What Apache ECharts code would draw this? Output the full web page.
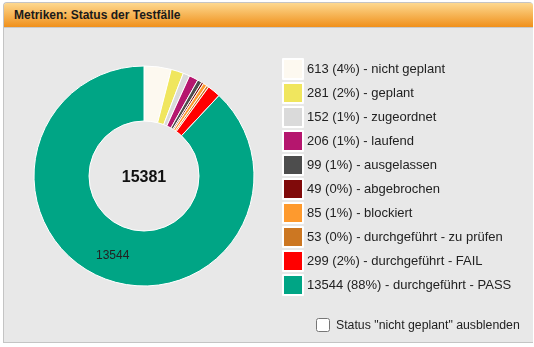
<!DOCTYPE html>
<html>
<head>
<meta charset="utf-8">
<script src="https://cdn.jsdelivr.net/npm/echarts@6/dist/echarts.min.js"></script>
<style>
html,body{margin:0;padding:0;background:#fff;width:534px;height:347px;overflow:hidden;font-family:"Liberation Sans",Arial,sans-serif;}
#panel{position:absolute;left:3px;top:2px;width:530px;height:341px;box-sizing:border-box;border:1px solid #c4c4c4;border-right:none;background:#e8e8e8;border-radius:4px 4px 0 0;}
#head{position:absolute;left:0;top:0;right:0;height:24px;border-radius:3px 3px 0 0;background:linear-gradient(#fdd88f,#f0901b);border-bottom:1px solid #c9c9c9;}
#head span{position:absolute;left:10px;top:5px;font-weight:bold;font-size:12px;color:#1a1a1a;}
#chart{position:absolute;left:0;top:0;width:534px;height:347px;}
#chk{position:absolute;left:316px;top:318px;font-size:12.3px;color:#222;display:flex;align-items:center;}
#chk input{margin:0 6px 0 0;width:14px;height:14px;}
</style>
</head>
<body>
<div id="panel"><div id="head"><span>Metriken: Status der Testfälle</span></div></div>
<div id="chart"></div>
<label id="chk"><input type="checkbox">Status "nicht geplant" ausblenden</label>
<script>
const categories = ["nicht geplant","geplant","zugeordnet","laufend","ausgelassen","abgebrochen","blockiert","durchgeführt - zu prüfen","durchgeführt - FAIL","durchgeführt - PASS"];
const values = [613,281,152,206,99,49,85,53,299,13544];
const colors = ["#fdf9f0","#f0e65e","#dadada","#b5166e","#4d4d4d","#800a0a","#fe9a2e","#cc7722","#ff0000","#00a585"];
const total = values.reduce((a,b)=>a+b,0);

const chart = echarts.init(document.getElementById('chart'), null, {renderer:'canvas'});
const data = categories.map((n,i)=>({
  name:n, value:values[i], itemStyle:{color:colors[i]},
  label:{show: values[i]/total > 0.1}
}));
chart.setOption({
  backgroundColor:'transparent',
  animation:false,
  color:colors,
  legend:{
    orient:'vertical', left:282, top:58, padding:0, itemWidth:20, itemHeight:20, itemGap:2,
    icon:'rect', selectedMode:false,
    textStyle:{fontSize:13,color:'#222',fontFamily:'Liberation Sans, Arial, sans-serif',padding:[0,0,0,-1]},
    formatter:function(name){
      const i = categories.indexOf(name);
      return values[i] + ' (' + Math.round(values[i]/total*100) + '%) - ' + name;
    },
    data:categories
  },
  graphic:[{
    type:'text', x:144, y:178,
    style:{text:String(total), fontSize:16, fontWeight:'bold', fill:'#111', align:'center', verticalAlign:'middle', fontFamily:'Liberation Sans, Arial, sans-serif'}
  }],
  series:[{
    type:'pie', center:[144,176], radius:[55,110], startAngle:90, clockwise:true,
    avoidLabelOverlap:false, silent:true,
    itemStyle:{borderColor:'#ffffff',borderWidth:1},
    label:{position:'inside',formatter:'{c}',fontSize:12,color:'#222',fontFamily:'Liberation Sans, Arial, sans-serif'},
    labelLine:{show:false},
    emphasis:{disabled:true},
    data:data
  }]
});
</script>
</body>
</html>
